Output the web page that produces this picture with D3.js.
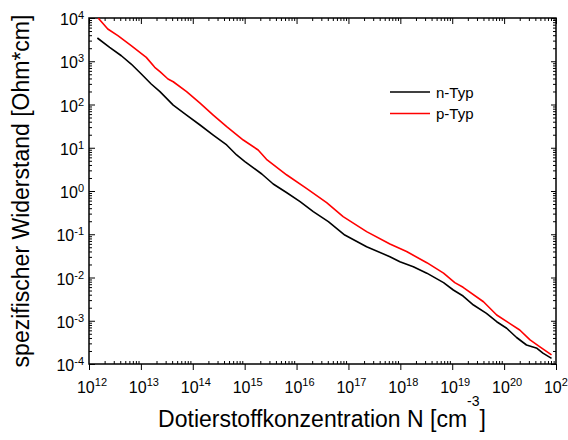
<!DOCTYPE html>
<html>
<head>
<meta charset="utf-8">
<script src="https://cdn.jsdelivr.net/npm/d3@7"></script>
<style>
  body { margin: 0; background: #fff; }
  svg { font-family: "Liberation Sans", Arial, sans-serif; }
</style>
</head>
<body>
<div class="content"></div>
<script>
// Data (N in cm^-3, rho in Ohm*cm)
const nTypN = [1.45e12, 2.5e12, 4.2e12, 6.5e12, 1.02e13, 1.58e13, 2.33e13, 4.2e13, 7.6e13,
  1.38e14, 2.48e14, 4.5e14, 7.0e14, 1.01e15, 2.14e15, 3.55e15, 6.5e15, 1.17e16, 2.1e16,
  4.1e16, 8.5e16, 2.24e17, 6.3e17, 9.8e17, 1.78e18, 3.24e18, 6.8e18, 1.05e19, 1.62e19,
  2.57e19, 4.57e19, 7.2e19, 1.12e20, 1.74e20, 2.7e20, 4.3e20, 5.6e20, 8.2e20];
const nTypRho = [3450, 2100, 1340, 863, 507, 298, 198, 97, 57,
  33.6, 19.7, 11.6, 6.8, 4.8, 2.47, 1.45, 0.91, 0.566, 0.333,
  0.195, 0.096, 0.0515, 0.0303, 0.0232, 0.0178, 0.0126, 0.0076, 0.00514, 0.00373,
  0.00231, 0.00148, 0.00095, 6.7e-4, 4.1e-4, 2.75e-4, 2.3e-4, 1.78e-4, 1.35e-4];

const pTypN = [1.5e12, 2.3e12, 3.6e12, 6.5e12, 1.27e13, 1.85e13, 2.33e13, 3.33e13, 4.2e13,
  7.6e13, 1.38e14, 2.48e14, 4.5e14, 9.4e14, 1.82e15, 2.63e15, 6.5e15, 1.55e16, 3.8e16,
  7.9e16, 2.24e17, 6.3e17, 1.32e18, 3.24e18, 6.8e18, 1.12e19, 1.62e19, 4.0e19, 7.2e19,
  2.0e20, 3.16e20, 4.9e20, 8.2e20];
const pTypRho = [10000, 5570, 3900, 2290, 1230, 724, 573, 389, 336,
  198, 107, 57, 30.7, 15.1, 8.87, 5.4, 2.34, 1.15, 0.537,
  0.255, 0.115, 0.0596, 0.0398, 0.022, 0.0126, 0.0076, 0.00593, 0.00275, 0.00136,
  6.1e-4, 3.6e-4, 2.5e-4, 1.62e-4];

const seriesNames = ["n-Typ", "p-Typ"];
const seriesColors = ["#000000", "#ff0000"];

const xExponents = [12, 13, 14, 15, 16, 17, 18, 19, 20, 21];
const yExponents = [-4, -3, -2, -1, 0, 1, 2, 3, 4];

// Dimensions
const W = 568, H = 440;
const plot = { left: 89, right: 556, top: 18, bottom: 364 };

const svg = d3
  .select(".content")
  .append("svg")
  .attr("width", W)
  .attr("height", H);

const xScale = d3.scaleLog().domain([1e12, 1e21]).range([plot.left, plot.right]);
const yScale = d3.scaleLog().domain([1e-4, 1e4]).range([plot.bottom, plot.top]);

const xMajor = xExponents.map((e) => Math.pow(10, e));
const yMajor = yExponents.map((e) => Math.pow(10, e));
const minorOf = (exps) => {
  const out = [];
  exps.slice(0, -1).forEach((e) => {
    for (let m = 2; m <= 9; m++) out.push(m * Math.pow(10, e));
  });
  return out;
};
const xMinor = minorOf(xExponents);
const yMinor = minorOf(yExponents);

// Ticks on all four sides
const addAxis = (axis, tx, ty) => {
  const g = svg
    .append("g")
    .attr("transform", `translate(${tx}, ${ty})`)
    .call(axis);
  g.select(".domain").remove();
  g.selectAll("text").remove();
  g.selectAll("line").attr("stroke", "#000").attr("stroke-width", 1);
};

addAxis(d3.axisBottom(xScale).tickValues(xMajor).tickSize(6), 0, plot.bottom);
addAxis(d3.axisBottom(xScale).tickValues(xMinor).tickSize(-3), 0, plot.bottom);
addAxis(d3.axisTop(xScale).tickValues(xMajor).tickSize(-6), 0, plot.top);
addAxis(d3.axisTop(xScale).tickValues(xMinor).tickSize(-3), 0, plot.top);
addAxis(d3.axisLeft(yScale).tickValues(yMajor).tickSize(-6), plot.left, 0);
addAxis(d3.axisLeft(yScale).tickValues(yMinor).tickSize(-3), plot.left, 0);
addAxis(d3.axisRight(yScale).tickValues(yMajor).tickSize(-5), plot.right, 0);
addAxis(d3.axisRight(yScale).tickValues(yMinor).tickSize(-3), plot.right, 0);

// Frame
svg
  .append("rect")
  .attr("x", plot.left)
  .attr("y", plot.top)
  .attr("width", plot.right - plot.left)
  .attr("height", plot.bottom - plot.top)
  .attr("fill", "none")
  .attr("stroke", "#000")
  .attr("stroke-width", 1.5);

// Tick labels (10 with superscript exponent)
const xLabels = svg
  .append("g")
  .selectAll("text")
  .data(xExponents)
  .join("text")
  .attr("x", (d) => xScale(Math.pow(10, d)) + 3)
  .attr("y", 393)
  .attr("text-anchor", "middle")
  .attr("font-size", 16);
xLabels.append("tspan").text("10");
xLabels.append("tspan").attr("dy", -7).attr("font-size", 11).text((d) => d);

const yLabels = svg
  .append("g")
  .selectAll("text")
  .data(yExponents)
  .join("text")
  .attr("x", 84)
  .attr("y", (d) => yScale(Math.pow(10, d)) + 7)
  .attr("text-anchor", "end")
  .attr("font-size", 16);
yLabels.append("tspan").text("10");
yLabels.append("tspan").attr("dy", -6).attr("font-size", 11).text((d) => d);

// Curves
svg
  .append("clipPath")
  .attr("id", "plot-clip")
  .append("rect")
  .attr("x", plot.left)
  .attr("y", plot.top)
  .attr("width", plot.right - plot.left)
  .attr("height", plot.bottom - plot.top);

const line = d3
  .line()
  .x((d) => xScale(d[0]))
  .y((d) => yScale(d[1]));

const series = [
  d3.zip(nTypN, nTypRho),
  d3.zip(pTypN, pTypRho),
];

svg
  .append("g")
  .attr("clip-path", "url(#plot-clip)")
  .selectAll("path")
  .data(series)
  .join("path")
  .attr("d", line)
  .attr("fill", "none")
  .attr("stroke", (d, i) => seriesColors[i])
  .attr("stroke-width", 1.6)
  .attr("stroke-linejoin", "round");

// Legend
const legend = svg.append("g");
const legendItems = legend
  .selectAll("g")
  .data(seriesNames)
  .join("g")
  .attr("transform", (d, i) => `translate(390, ${92 + i * 21.5})`);
legendItems
  .append("line")
  .attr("x1", 0)
  .attr("x2", 40)
  .attr("stroke", (d, i) => seriesColors[i])
  .attr("stroke-width", 1.6);
legendItems
  .append("text")
  .attr("x", 46)
  .attr("y", 5.5)
  .attr("font-size", 15)
  .text((d) => d);

// Axis titles
const xTitle = svg
  .append("text")
  .attr("x", 322)
  .attr("y", 427)
  .attr("text-anchor", "middle")
  .attr("font-size", 23);
xTitle.append("tspan").text("Dotierstoffkonzentration N [cm");
xTitle.append("tspan").attr("dy", -21).attr("font-size", 14).text("-3");
xTitle.append("tspan").attr("dy", 21).text("]");

svg
  .append("text")
  .attr("transform", "rotate(-90)")
  .attr("x", -191)
  .attr("y", 29)
  .attr("text-anchor", "middle")
  .attr("font-size", 23)
  .text("spezifischer Widerstand [Ohm*cm]");
</script>
</body>
</html>
